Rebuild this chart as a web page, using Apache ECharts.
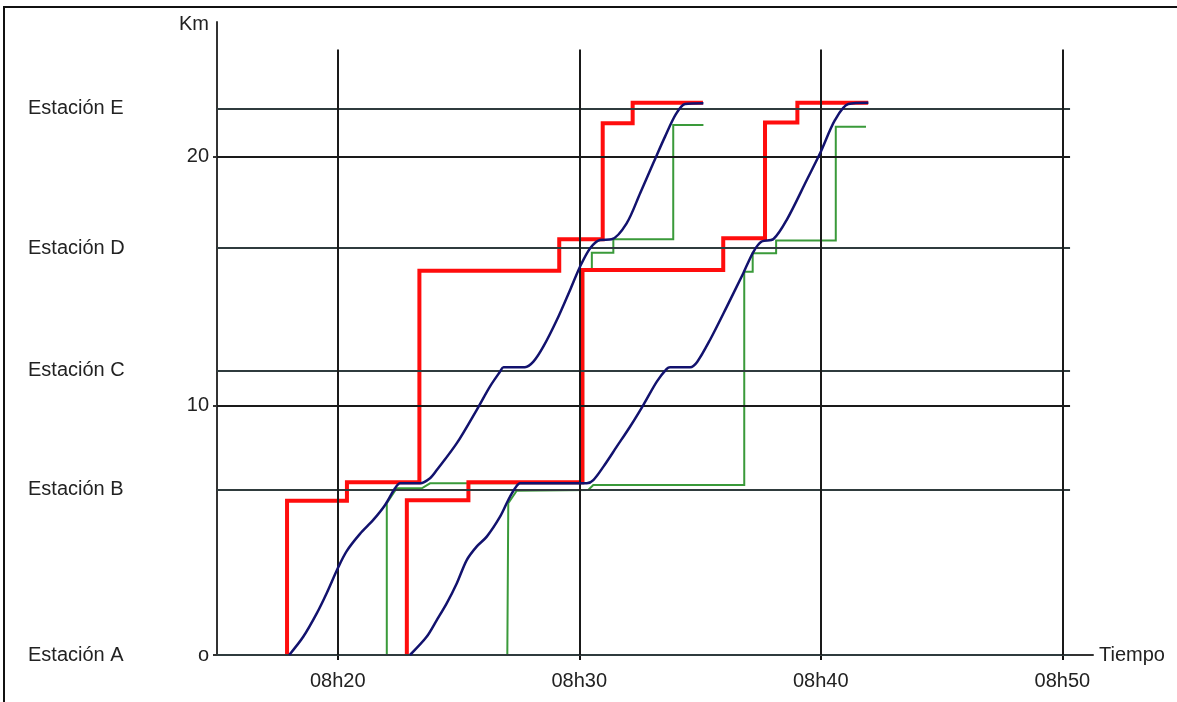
<!DOCTYPE html>
<html>
<head>
<meta charset="utf-8">
<script src="https://cdn.jsdelivr.net/npm/echarts@6/dist/echarts.min.js"></script>
<style>
html,body{margin:0;padding:0;background:#fff;}
#chart{width:1177px;height:702px;}
</style>
</head>
<body>
<div id="chart"></div>
<script>
// ---- data ----
const stationNames = ['Estación A', 'Estación B', 'Estación C', 'Estación D', 'Estación E'];
const stationKm = [0, 6.64, 11.40, 16.33, 21.92];
const timeTicks = [20, 30, 40, 50];          // minutes after 08h00
const kmTicks = [0, 10, 20];
const kmTickLabels = ['o', '10', '20'];

// red (thick step) – [minute, km]
const red1 = [[17.90,0],[17.90,6.19],[20.38,6.19],[20.38,6.93],[23.38,6.93],[23.38,15.42],[29.17,15.42],[29.17,16.68],[30.97,16.68],[30.97,21.34],[32.21,21.34],[32.21,22.16],[35.12,22.16]];
const red2 = [[22.86,0],[22.86,6.21],[25.41,6.21],[25.41,6.93],[30.13,6.93],[30.13,15.45],[35.96,15.45],[35.96,16.72],[37.69,16.72],[37.69,21.37],[39.03,21.37],[39.03,22.16],[41.96,22.16]];

// green (thin step)
const green1 = [[22.03,0],[22.03,6.09],[22.44,6.69],[23.48,6.69],[23.82,6.89],[30.16,6.89],[30.16,15.45],[30.52,15.45],[30.52,16.14],[31.41,16.14],[31.41,16.68],[33.89,16.68],[33.89,21.27],[35.14,21.27]];
const green2 = [[27.02,0],[27.06,6.09],[27.41,6.59],[30.37,6.62],[30.58,6.82],[36.83,6.82],[36.83,15.38],[37.18,15.38],[37.18,16.12],[38.15,16.12],[38.15,16.63],[40.62,16.63],[40.62,21.20],[41.87,21.20]];

// blue (actual run curves)
const blue1 = [[17.99,0],[18.57,0.73],[19.13,1.67],[19.54,2.48],[20.02,3.52],[20.37,4.17],[20.92,4.86],[21.47,5.42],[21.96,6.02],[22.37,6.69],[22.58,6.89],[23.41,6.89],[23.82,7.09],[24.10,7.42],[24.93,8.50],[25.75,9.83],[26.30,10.77],[26.72,11.37],[26.86,11.55],[27.75,11.55],[28.10,11.77],[28.51,12.37],[29.07,13.44],[29.62,14.65],[30.03,15.58],[30.45,16.32],[30.86,16.65],[31.34,16.68],[31.96,17.32],[32.52,18.53],[33.07,19.75],[33.55,20.80],[34.00,21.70],[34.38,22.11],[35.14,22.14]];
const blue2 = [[22.99,0],[23.68,0.73],[24.10,1.40],[24.51,2.07],[24.93,2.88],[25.34,3.81],[25.75,4.35],[26.17,4.75],[26.72,5.55],[27.06,6.22],[27.34,6.69],[27.55,6.89],[30.31,6.89],[30.58,7.02],[31.00,7.56],[31.55,8.36],[32.10,9.16],[32.65,10.03],[33.21,10.97],[33.62,11.48],[33.76,11.55],[34.59,11.55],[34.88,11.76],[35.41,12.64],[36.11,13.98],[36.79,15.32],[37.21,16.18],[37.55,16.59],[38.04,16.69],[38.59,17.46],[39.42,19.06],[39.97,20.13],[40.59,21.47],[41.14,22.11],[41.97,22.16]];

// ---- chart ----
const X_MIN = 15, X_MAX = 51.27, Y_MAX = 25.4;
const GRID_X_END = 50.32, GRID_Y_TOP = 24.3;
const FONT = 'Liberation Sans, Arial, Helvetica, sans-serif';

const chart = echarts.init(document.getElementById('chart'), null, {renderer: 'canvas'});

const hLines = [];
kmTicks.filter(v => v > 0).forEach(v => {
  hLines.push([{coord: [X_MIN, v]}, {coord: [GRID_X_END, v]}]);
});
stationKm.forEach(v => {
  hLines.push([{coord: [X_MIN, v], lineStyle: {color: '#2f3b3d', width: 2}}, {coord: [GRID_X_END, v]}]);
});
timeTicks.forEach(t => {
  hLines.push([{coord: [t, 0]}, {coord: [t, GRID_Y_TOP]}]);
});

const lineSeries = (name, data, color, width, smooth, z) => ({
  name, type: 'line', data, z,
  showSymbol: false, symbol: 'none', smooth: smooth,
  lineStyle: {color, width, join: 'miter', cap: 'butt'},
  silent: true, animation: false
});

chart.setOption({
  animation: false,
  backgroundColor: '#fff',
  textStyle: {fontFamily: FONT},
  graphic: [
    {type: 'line', shape: {x1: 3, y1: 7, x2: 1177, y2: 7}, style: {stroke: '#111', lineWidth: 2}},
    {type: 'line', shape: {x1: 4, y1: 6, x2: 4, y2: 702}, style: {stroke: '#111', lineWidth: 2}}
  ],
  grid: {left: 217, right: 84, top: 22, bottom: 47, containLabel: false},
  xAxis: {
    type: 'value', min: X_MIN, max: X_MAX,
    name: 'Tiempo', nameLocation: 'end', nameGap: 6,
    nameTextStyle: {fontSize: 20, color: '#222', fontFamily: FONT, verticalAlign: 'middle'},
    axisLine: {show: true, onZero: false, lineStyle: {color: '#333', width: 2}},
    axisTick: {show: true, length: 5, customValues: timeTicks, lineStyle: {color: '#111', width: 2}},
    axisLabel: {show: true, customValues: timeTicks, margin: 16, fontSize: 20, color: '#222', fontFamily: FONT,
      formatter: v => '08h' + v},
    splitLine: {show: false}
  },
  yAxis: [{
    type: 'value', min: 0, max: Y_MAX,
    name: 'Km', nameLocation: 'end', nameGap: -2,
    nameTextStyle: {fontSize: 20, color: '#222', fontFamily: FONT, align: 'right', verticalAlign: 'middle', padding: [0, 8, 0, 0]},
    axisLine: {show: true, onZero: false, lineStyle: {color: '#333', width: 2}},
    axisTick: {show: true, length: 4, customValues: kmTicks, lineStyle: {color: '#333', width: 2}},
    axisLabel: {show: true, customValues: kmTicks, margin: 8, fontSize: 20, color: '#222', fontFamily: FONT,
      formatter: v => kmTickLabels[kmTicks.indexOf(v)]},
    splitLine: {show: false}
  }, {
    type: 'value', min: 0, max: Y_MAX, position: 'left',
    axisLine: {show: false}, axisTick: {show: false}, splitLine: {show: false},
    axisLabel: {show: true, customValues: stationKm, margin: 189, align: 'left', fontSize: 20, color: '#222', fontFamily: FONT,
      formatter: v => stationNames[stationKm.indexOf(v)]}
  }],
  series: [
    {
      name: 'grid', type: 'line', data: [], z: 1, silent: true,
      markLine: {
        silent: true, symbol: ['none', 'none'], animation: false,
        label: {show: false},
        lineStyle: {color: '#1a1a1a', width: 2, type: 'solid'},
        emphasis: {disabled: true},
        data: hLines
      }
    },
    lineSeries('verde1', green1, '#3a9a3a', 2, false, 3),
    lineSeries('verde2', green2, '#3a9a3a', 2, false, 3),
    lineSeries('rojo1', red1, '#ff0d0d', 4, false, 4),
    lineSeries('rojo2', red2, '#ff0d0d', 4, false, 4),
    lineSeries('azul1', blue1, '#12126e', 2.5, 0.3, 5),
    lineSeries('azul2', blue2, '#12126e', 2.5, 0.3, 5)
  ]
});
</script>
</body>
</html>
